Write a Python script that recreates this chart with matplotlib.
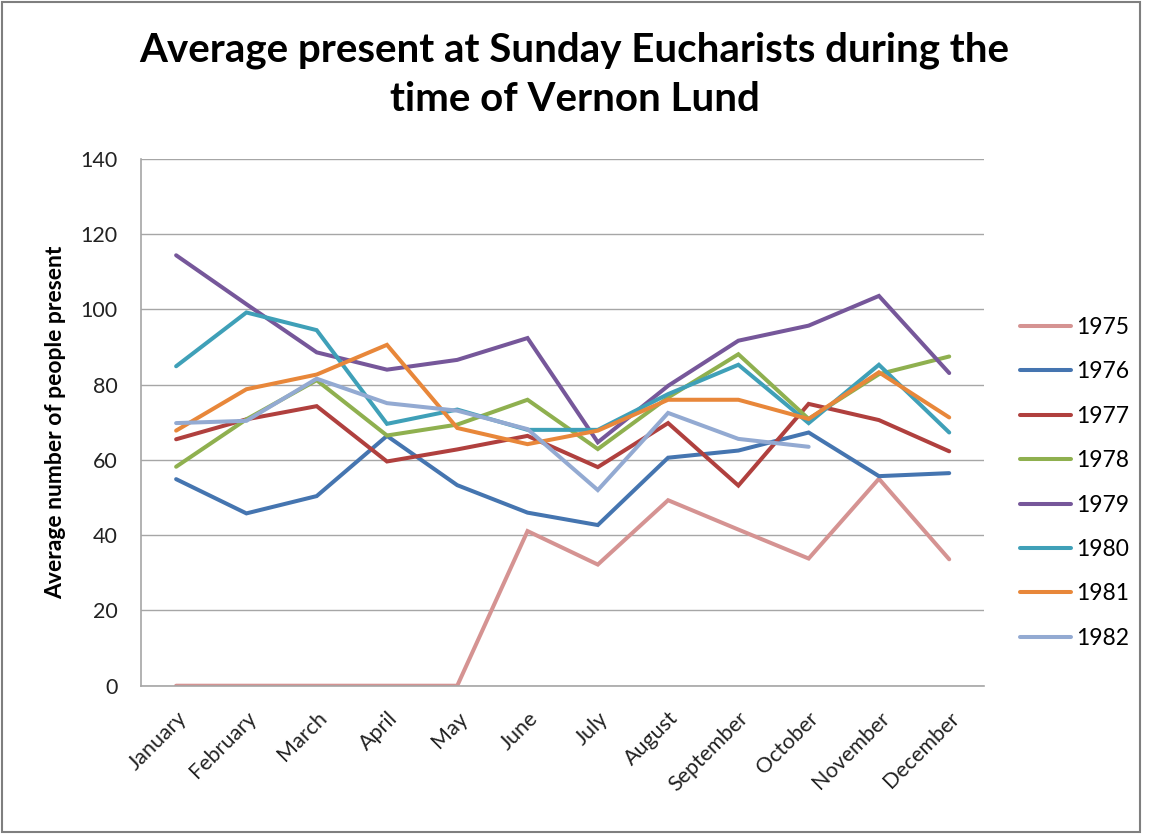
import matplotlib
matplotlib.use("Agg")
import matplotlib.pyplot as plt
import numpy as np

months = ["January", "February", "March", "April", "May", "June", "July",
          "August", "September", "October", "November", "December"]
years = ["1975", "1976", "1977", "1978", "1979", "1980", "1981", "1982"]

y1975 = [0, 0, 0, 0, 0, 41.1, 32.2, 49.3, 41.5, 33.8, 55.0, 33.6]
y1976 = [54.9, 45.8, 50.4, 66.4, 53.3, 46.0, 42.7, 60.6, 62.5, 67.3, 55.7, 56.5]
y1977 = [65.5, 70.8, 74.3, 59.6, 62.8, 66.4, 58.1, 69.8, 53.2, 74.9, 70.6, 62.3]
y1978 = [58.2, 70.8, 81.2, 66.5, 69.4, 76.0, 62.9, 76.6, 88.1, 70.9, 82.8, 87.5]
y1979 = [114.4, 101.4, 88.6, 84.0, 86.6, 92.4, 64.7, 79.7, 91.7, 95.7, 103.6, 83.1]
y1980 = [84.9, 99.2, 94.5, 69.6, 73.4, 68.0, 68.0, 77.5, 85.3, 69.8, 85.3, 67.3]
y1981 = [67.8, 78.8, 82.7, 90.6, 68.5, 64.2, 67.8, 76.0, 76.0, 70.9, 83.3, 71.3]
y1982 = [69.8, 70.4, 81.6, 75.1, 73.1, 68.2, 52.0, 72.5, 65.6, 63.5, None, None]

series = [y1975, y1976, y1977, y1978, y1979, y1980, y1981, y1982]
colors = ["#D59392", "#4575B0", "#B0403E", "#8FB04F", "#76579A",
          "#3FA0B8", "#E8873A", "#93AAD2"]

fig = plt.figure(figsize=(11.49, 8.34), dpi=100)
fig.patch.set_facecolor("white")
ax = fig.add_axes([0.1227, 0.1778, 0.734, 0.6316])

x = np.arange(len(months))
for lab, vals, col in zip(years, series, colors):
    v = np.array([np.nan if a is None else a for a in vals], dtype=float)
    ax.plot(x, v, color=col, lw=2.9, label=lab, solid_capstyle="round",
            solid_joinstyle="miter")

ax.set_xlim(-0.5, 11.5)
ax.set_ylim(0, 140)
ax.set_yticks(np.arange(0, 141, 20))
ax.set_xticks(x)
ax.set_xticklabels(months, rotation=45, ha="right", rotation_mode="anchor",
                   fontsize=15.5, family="Lato")
for t in ax.get_yticklabels():
    t.set_fontsize(15.5)
    t.set_family("Lato")
ax.grid(axis="y", color="#A6A6A6", lw=1.0)
ax.set_axisbelow(True)
for s in ["top", "right"]:
    ax.spines[s].set_visible(False)
for s in ["left", "bottom"]:
    ax.spines[s].set_color("#A6A6A6")
    ax.spines[s].set_linewidth(1.2)
ax.tick_params(axis="y", length=0, pad=17, colors="#222222")
ax.tick_params(axis="x", length=0, pad=16, colors="#222222")
ax.set_ylabel("Average number of people present", fontsize=16.5,
              fontweight="bold", family="Lato", labelpad=10)

fig.suptitle("Average present at Sunday Eucharists during the\ntime of Vernon Lund",
             fontsize=29, fontweight="bold", family="Lato", y=0.962,
             linespacing=1.38)

leg = fig.legend(loc="upper left", bbox_to_anchor=(0.870, 0.6445), frameon=False,
                 prop={"family": "Lato", "size": 16.5}, labelspacing=1.02,
                 handlelength=2.2, handletextpad=0.25)

border = plt.Rectangle((0.002, 0.002), 0.99, 0.996, transform=fig.transFigure,
                       fill=False, edgecolor="#7F7F7F", lw=1.5)
fig.patches.append(border)

fig.savefig("out.png", dpi=100)
